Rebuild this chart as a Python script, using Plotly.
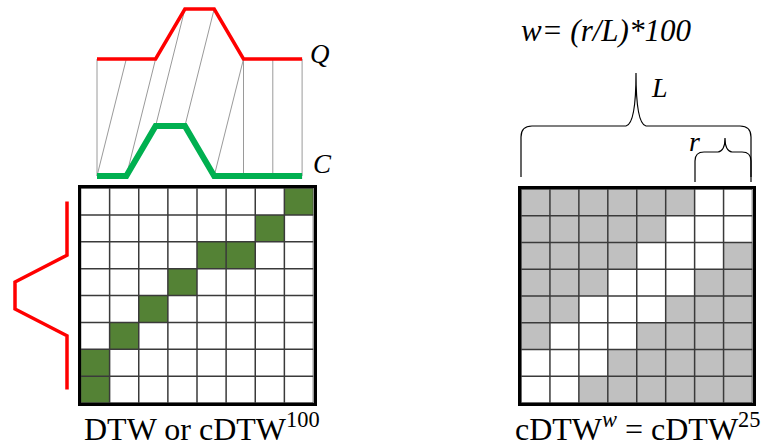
import plotly.graph_objects as go

# ---------------- data ----------------
Q = [0, 0, 0, 1, 1, 0, 0, 0]          # query series (red)
C = [0, 0, 1, 1, 0, 0, 0, 0]          # candidate series (green)
warp_q = [0, 1, 2, 3, 4, 5, 5, 6, 7]  # warping path, Q index
warp_c = [0, 0, 1, 2, 3, 4, 5, 6, 7]  # warping path, C index
band = [                              # 1 = inside warping window (rows: Q index 0 at bottom)
    [1, 1, 0, 0, 0, 0, 0, 0],
    [1, 1, 1, 0, 0, 0, 0, 0],
    [0, 1, 1, 1, 0, 0, 0, 0],
    [0, 0, 1, 1, 1, 0, 0, 0],
    [0, 0, 0, 1, 1, 1, 0, 0],
    [0, 0, 0, 0, 1, 1, 1, 0],
    [0, 0, 0, 0, 0, 1, 1, 1],
    [0, 0, 0, 0, 0, 0, 1, 1],
]
full_window = 100
window_pct = 25

# ---------------- layout helpers ----------------
W, H = 762, 446
FONT = "Liberation Serif"
n = len(Q)
Q_OFFSET = 2.34


def dx(a, b):
    return [a / W, b / W]


def dy(top, bottom):
    return [1 - bottom / H, 1 - top / H]


fig = go.Figure()

# --- top panel: warping lines, Q and C ---
wx, wy = [], []
for qi, ci in zip(warp_q, warp_c):
    wx += [qi, ci, None]
    wy += [Q[qi] + Q_OFFSET, C[ci], None]
fig.add_trace(go.Scatter(x=wx, y=wy, mode="lines", line=dict(color="#9a9a9a", width=1),
                         xaxis="x2", yaxis="y2", hoverinfo="skip", showlegend=False))
fig.add_trace(go.Scatter(x=list(range(n)), y=[v + Q_OFFSET for v in Q], mode="lines",
                         line=dict(color="#ff0000", width=3.5), xaxis="x2", yaxis="y2",
                         hoverinfo="skip", showlegend=False))
fig.add_trace(go.Scatter(x=list(range(n)), y=C, mode="lines",
                         line=dict(color="#00b050", width=6), xaxis="x2", yaxis="y2",
                         hoverinfo="skip", showlegend=False))

# --- left matrix: DTW path ---
path_z = [[0] * n for _ in range(n)]
for qi, ci in zip(warp_q, warp_c):
    path_z[qi][ci] = 1
fig.add_trace(go.Heatmap(z=path_z, x=list(range(n)), y=list(range(n)), zmin=0, zmax=1,
                         colorscale=[[0, "#ffffff"], [1, "#548235"]], showscale=False,
                         xaxis="x3", yaxis="y3", hoverinfo="skip"))

# --- right matrix: warping window ---
fig.add_trace(go.Heatmap(z=band, x=list(range(n)), y=list(range(n)), zmin=0, zmax=1,
                         colorscale=[[0, "#c0c0c0"], [1, "#ffffff"]], showscale=False,
                         xaxis="x4", yaxis="y4", hoverinfo="skip"))

# grid lines for both matrices
gx, gy = [], []
for k in range(n + 1):
    b = k - 0.5
    gx += [b, b, None, -0.5, n - 0.5, None]
    gy += [-0.5, n - 0.5, None, b, b, None]
for xa, ya in (("x3", "y3"), ("x4", "y4")):
    fig.add_trace(go.Scatter(x=gx, y=gy, mode="lines", line=dict(color="#3a3a3a", width=1.5),
                             xaxis=xa, yaxis=ya, hoverinfo="skip", showlegend=False))

# --- left rotated Q (red) ---
fig.add_trace(go.Scatter(x=Q, y=list(range(n)), mode="lines",
                         line=dict(color="#ff0000", width=3.5), xaxis="x5", yaxis="y3",
                         hoverinfo="skip", showlegend=False))

hidden = dict(visible=False, fixedrange=True)
box = dict(showline=True, mirror=True, linecolor="black", linewidth=3, showgrid=False,
           zeroline=False, showticklabels=False, ticks="", range=[-0.5, n - 0.5], fixedrange=True)

fig.update_layout(
    width=W, height=H, autosize=False,
    margin=dict(l=0, r=0, t=0, b=0),
    paper_bgcolor="white", plot_bgcolor="rgba(0,0,0,0)",
    showlegend=False,
    font=dict(family=FONT, color="black"),
    xaxis=dict(domain=[0, 1], range=[0, W], **hidden),
    yaxis=dict(domain=[0, 1], range=[H, 0], **hidden),
    xaxis2=dict(domain=dx(80, 330), range=[(80 - 97) / 29.3, (330 - 97) / 29.3], anchor="y2", **hidden),
    yaxis2=dict(domain=dy(0, 195), range=[(176 - 195) / 50, 176 / 50], anchor="x2", **hidden),
    xaxis3=dict(domain=dx(80.5, 313.5), anchor="y3", **box),
    yaxis3=dict(domain=dy(188, 403), anchor="x3", **box),
    xaxis4=dict(domain=dx(521, 752.5), anchor="y4", **box),
    yaxis4=dict(domain=dy(189, 403), anchor="x4", **box),
    xaxis5=dict(domain=dx(8, 74), range=[(67 - 8) / 52, (67 - 74) / 52], anchor="y3", **hidden),
)

# braces (L and r)
brace = dict(type="path", xref="x", yref="y", line=dict(color="black", width=1.2))
fig.add_shape(path="M 521,177 L 521,137 Q 521,126 532,126 L 626,126 Q 636,124 636,73 "
                   "Q 636,124 646,126 L 740,126 Q 751,126 751,137 L 751,177", **brace)
fig.add_shape(path="M 695,182 L 695,161 Q 695,152 704,152 L 718,152 Q 725,151 725,138 "
                   "Q 725,151 732,152 L 742,152 Q 751,152 751,161 L 751,182", **brace)


def label(x, y, text, size):
    fig.add_annotation(x=x, y=y, text=text, xref="x", yref="y", showarrow=False,
                       font=dict(family=FONT, size=size, color="black"))


label(320, 54, "<i>Q</i>", 27)
label(322, 164, "<i>C</i>", 27)
label(202, 427, f"DTW or cDTW<sup>{full_window}</sup>", 32)
label(638, 427, f"cDTW<sup><i>w</i></sup> = cDTW<sup>{window_pct}</sup>", 32)
label(606, 30, f"<i>w= (r/L)*{full_window}</i>", 31)
label(659, 87, "<i>L</i>", 28)
label(694, 141, "<i>r</i>", 28)

fig.write_html("out.html", config={"displayModeBar": False, "staticPlot": True},
               post_script="document.body.style.margin='0px';")
